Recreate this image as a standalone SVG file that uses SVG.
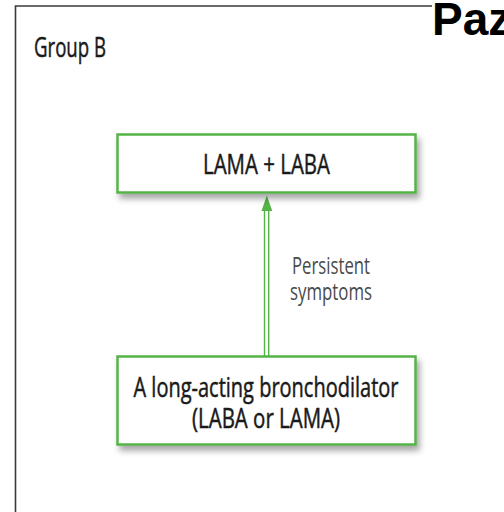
<svg xmlns="http://www.w3.org/2000/svg" width="504" height="512" viewBox="0 0 504 512">
<defs>
<filter id="sh" x="-10%" y="-20%" width="125%" height="160%">
<feDropShadow dx="3" dy="5" stdDeviation="3" flood-color="#000" flood-opacity="0.35"/>
</filter>
<style>
.box{fill:#fff;stroke:#55b447;stroke-width:2.5;filter:url(#sh)}
.t{font-family:"Open Sans","Noto Sans","Liberation Sans",sans-serif;fill:#1a1a1a;stroke:#1a1a1a;stroke-width:0.5;text-anchor:middle}
.lbl{font-family:"Open Sans","Noto Sans","Liberation Sans",sans-serif;fill:#4a4a4a;text-anchor:middle}
.con{stroke:#55b447;stroke-width:1.4;fill:none}
</style>
</defs>
<rect width="504" height="512" fill="#fff"/>
<g id="frame">
<path d="M15.5 512 V6 H432" fill="none" stroke="#3a3a3a" stroke-width="1.6"/>
<text x="34" y="57" font-family="Open Sans, Noto Sans, sans-serif" font-size="27" fill="#1a1a1a" stroke="#1a1a1a" stroke-width="0.5" textLength="72" lengthAdjust="spacingAndGlyphs">Group B</text>
</g>
<text x="432" y="35" font-family="Liberation Sans, Arial, sans-serif" font-size="46" font-weight="bold" fill="#000">Paz</text>
<g id="connectors">
<line class="con" x1="264.5" y1="209" x2="264.5" y2="356"/>
<line class="con" x1="268.7" y1="209" x2="268.7" y2="356"/>
<polygon points="266.8,195.5 261.5,211 272.3,211" fill="#55b447"/>
<text class="lbl" x="331" y="273.5" font-size="24" textLength="78" lengthAdjust="spacingAndGlyphs">Persistent</text>
<text class="lbl" x="331" y="300" font-size="24" textLength="82" lengthAdjust="spacingAndGlyphs">symptoms</text>
</g>
<g id="node-lama-laba">
<rect class="box" x="117.5" y="134.5" width="298" height="58"/>
<text class="t" x="266.5" y="174" font-size="28" textLength="127" lengthAdjust="spacingAndGlyphs">LAMA + LABA</text>
</g>
<g id="node-bronchodilator">
<rect class="box" x="117.5" y="356.5" width="298" height="88"/>
<text class="t" x="266" y="397" font-size="27" textLength="265" lengthAdjust="spacingAndGlyphs">A long-acting bronchodilator</text>
<text class="t" x="266" y="428" font-size="27" textLength="148" lengthAdjust="spacingAndGlyphs">(LABA or LAMA)</text>
</g>
</svg>
